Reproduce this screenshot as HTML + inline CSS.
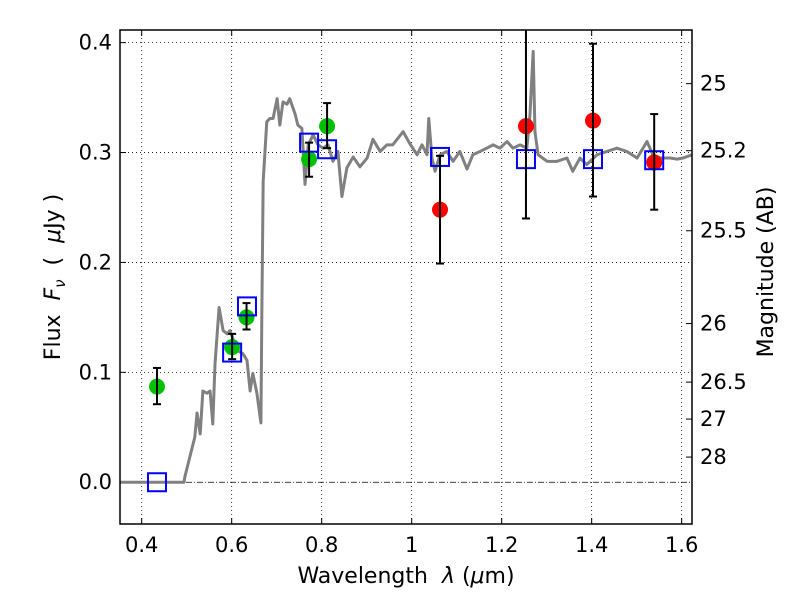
<!DOCTYPE html>
<html><head><meta charset="utf-8"><style>
body{margin:0;background:#fff;}
svg text{font-family:"DejaVu Sans","Liberation Sans",sans-serif;fill:#000;}
</style></head><body>
<svg id="c" width="800" height="600" xmlns="http://www.w3.org/2000/svg"></svg>
<script>
const specLam=[0.352,0.494,0.496,0.518,0.523,0.530,0.536,0.545,0.552,0.558,0.563,0.572,0.581,0.590,0.596,0.612,0.625,0.634,0.641,0.647,0.656,0.665,0.667,0.670,0.678,0.685,0.692,0.701,0.707,0.714,0.723,0.729,0.741,0.747,0.756,0.763,0.770,0.781,0.792,0.803,0.814,0.825,0.836,0.845,0.856,0.870,0.885,0.901,0.914,0.930,0.945,0.958,0.981,0.996,1.012,1.023,1.034,1.038,1.045,1.052,1.063,1.078,1.092,1.107,1.123,1.136,1.152,1.167,1.181,1.196,1.212,1.225,1.241,1.256,1.263,1.270,1.274,1.281,1.301,1.323,1.345,1.358,1.374,1.389,1.412,1.434,1.456,1.478,1.501,1.523,1.536,1.552,1.574,1.590,1.603,1.623];
const specFlux=[0,0,0.005,0.041,0.063,0.044,0.083,0.081,0.083,0.053,0.108,0.159,0.138,0.135,0.138,0.120,0.117,0.111,0.083,0.099,0.081,0.054,0.153,0.274,0.328,0.331,0.331,0.349,0.325,0.346,0.344,0.349,0.335,0.325,0.322,0.271,0.307,0.316,0.307,0.304,0.307,0.292,0.301,0.260,0.286,0.296,0.287,0.295,0.312,0.301,0.307,0.307,0.319,0.308,0.298,0.307,0.298,0.331,0.295,0.283,0.298,0.301,0.292,0.301,0.285,0.298,0.301,0.304,0.307,0.304,0.310,0.304,0.307,0.304,0.335,0.392,0.319,0.298,0.292,0.292,0.295,0.283,0.295,0.289,0.298,0.301,0.304,0.301,0.295,0.310,0.298,0.295,0.295,0.294,0.295,0.298];
const greenLam=[0.434,0.601,0.633,0.772,0.812];
const greenFlux=[0.087,0.123,0.150,0.294,0.324];
const greenLo=[0.071,0.112,0.139,0.278,0.304];
const greenHi=[0.104,0.135,0.163,0.309,0.345];
const redLam=[1.063,1.254,1.403,1.539];
const redFlux=[0.248,0.324,0.329,0.291];
const redLo=[0.199,0.240,0.260,0.248];
const redHi=[0.297,0.430,0.399,0.335];
const modelLam=[0.434,0.601,0.634,0.772,0.812,1.063,1.254,1.403,1.539];
const modelFlux=[0.0,0.118,0.160,0.309,0.303,0.296,0.294,0.294,0.293];
const xTicks=[0.4,0.6,0.8,1.0,1.2,1.4,1.6];
const xTickLabels=["0.4","0.6","0.8","1","1.2","1.4","1.6"];
const yTicks=[0.0,0.1,0.2,0.3,0.4];
const yTickLabels=["0.0","0.1","0.2","0.3","0.4"];
const magTicks=[25,25.2,25.5,26,26.5,27,28];
const magTickLabels=["25","25.2","25.5","26","26.5","27","28"];

const L=120,R=692,T=30,B=524;
const X0=0.3518,X1=1.623,Y0=-0.038,Y1=0.4115;
const sx=v=>L+(v-X0)/(X1-X0)*(R-L);
const sy=v=>B-(v-Y0)/(Y1-Y0)*(B-T);
const magToFlux=m=>0.3627*Math.pow(10,-0.4*(m-25));
const svg=document.getElementById('c');
const NS='http://www.w3.org/2000/svg';
function mk(tag,attrs,parent){const e=document.createElementNS(NS,tag);for(const k in attrs)e.setAttribute(k,attrs[k]);(parent||svg).appendChild(e);return e;}

const defs=mk('defs',{});
const cp=mk('clipPath',{id:'clip'},defs);mk('rect',{x:L,y:T,width:R-L,height:B-T},cp);

xTicks.forEach((v,i)=>{
 const g=mk('line',{x1:sx(v),x2:sx(v),y1:T,y2:B,stroke:'#000','stroke-width':0.8,'stroke-dasharray':'1,3'});
 
 
 mk('line',{x1:sx(v),x2:sx(v),y1:B,y2:B-6,stroke:'#000'});
 mk('line',{x1:sx(v),x2:sx(v),y1:T,y2:T+6,stroke:'#000'});
 const t=mk('text',{x:sx(v),y:B+28,'text-anchor':'middle','font-size':21});t.textContent=xTickLabels[i];
 
 
});
yTicks.forEach((v,i)=>{
 if(v!==0){const g=mk('line',{x1:L,x2:R,y1:sy(v),y2:sy(v),stroke:'#000','stroke-width':0.8,'stroke-dasharray':'1,3'});
 
 }
 mk('line',{x1:L,x2:L+6,y1:sy(v),y2:sy(v),stroke:'#000'});
 const t=mk('text',{x:L-8,y:sy(v)+7,'text-anchor':'end','font-size':21});t.textContent=yTickLabels[i];
 
 
});
const zl=mk('line',{x1:L,x2:R,y1:sy(0),y2:sy(0),stroke:'#000','stroke-width':0.8,'stroke-dasharray':'6,2,1,2'});


magTicks.forEach((m,i)=>{
 const y=sy(magToFlux(m));
 mk('line',{x1:R,x2:R-6,y1:y,y2:y,stroke:'#000'});
 const t=mk('text',{x:R+8,y:y+7,'font-size':21});t.textContent=magTickLabels[i];
 
 
});

const plot=mk('g',{'clip-path':'url(#clip)'});


const sp=mk('polyline',{points:specLam.map((l,i)=>sx(l)+','+sy(specFlux[i])).join(' '),fill:'none',stroke:'#808080','stroke-width':3,'stroke-linejoin':'round'},plot);



function errbar(l,lo,hi){
 const x=sx(l);
 mk('line',{x1:x,x2:x,y1:sy(lo),y2:sy(hi),stroke:'#000','stroke-width':2},plot);
 mk('line',{x1:x-4,x2:x+4,y1:sy(lo),y2:sy(lo),stroke:'#000','stroke-width':2},plot);
 mk('line',{x1:x-4,x2:x+4,y1:sy(hi),y2:sy(hi),stroke:'#000','stroke-width':2},plot);
}
greenLam.forEach((l,i)=>{
 const c=mk('circle',{cx:sx(l),cy:sy(greenFlux[i]),r:8,fill:'#00c000'},plot);
 
 
});
redLam.forEach((l,i)=>{
 const c=mk('circle',{cx:sx(l),cy:sy(redFlux[i]),r:8,fill:'#ff0000'},plot);
 
 
});
modelLam.forEach((l,i)=>{
 const r=mk('rect',{x:sx(l)-9,y:sy(modelFlux[i])-9,width:18,height:18,fill:'none',stroke:'#0000ff','stroke-width':2},plot);
 
 
});
greenLam.forEach((l,i)=>errbar(l,greenLo[i],greenHi[i]));
redLam.forEach((l,i)=>errbar(l,redLo[i],redHi[i]));

const fr=mk('rect',{x:L,y:T,width:R-L,height:B-T,fill:'none',stroke:'#000','stroke-width':1.5});


</script>
<svg width="800" height="600" style="position:absolute;left:0;top:0" xmlns="http://www.w3.org/2000/svg">
<text x="406" y="583" text-anchor="middle" font-size="22" xml:space="preserve">Wavelength  <tspan font-style="italic">λ</tspan> (<tspan font-style="italic">μ</tspan>m)</text>
<text transform="translate(60,277) rotate(-90)" text-anchor="middle" font-size="22" xml:space="preserve">Flux  <tspan font-style="italic">F</tspan><tspan font-style="italic" font-size="15" dy="5">ν</tspan><tspan dy="-5">  (  </tspan><tspan font-style="italic">μ</tspan>Jy )</text>
<text transform="translate(773,272) rotate(-90)" text-anchor="middle" font-size="22">Magnitude (AB)</text>
</svg>
</body></html>
